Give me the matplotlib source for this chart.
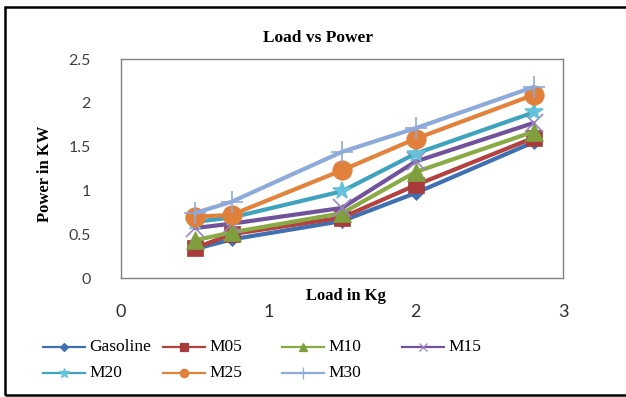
import matplotlib
matplotlib.use("Agg")
import matplotlib.pyplot as plt
from matplotlib.lines import Line2D
from matplotlib.patches import Rectangle

# ----------------------------------------------------
# Data
# ----------------------------------------------------
load = [0.5, 0.75, 1.5, 2.0, 2.8]

gasoline = [0.33, 0.44, 0.65, 0.97, 1.55]
m05 = [0.34, 0.50, 0.69, 1.06, 1.60]
m10 = [0.43, 0.52, 0.74, 1.21, 1.67]
m15 = [0.57, 0.62, 0.80, 1.33, 1.77]
m20 = [0.64, 0.69, 0.99, 1.42, 1.89]
m25 = [0.70, 0.72, 1.23, 1.59, 2.09]
m30 = [0.74, 0.87, 1.44, 1.71, 2.18]

names = ["Gasoline", "M05", "M10", "M15", "M20", "M25", "M30"]
series = [gasoline, m05, m10, m15, m20, m25, m30]

x_ticks = [0, 1, 2, 3]
y_ticks = [0, 0.5, 1, 1.5, 2, 2.5]

# ----------------------------------------------------
# Styles
# ----------------------------------------------------
line_colors = ["#3F70B2", "#B2413F", "#8AAA45", "#71539C",
               "#3FA3BE", "#E2823B", "#8EAADB"]
marker_colors = ["#3F70B2", "#A83C3A", "#7F9E3E", "#9A86C0",
                 "#66C1DA", "#E0803A", "#8EAADB"]
markers = ["D", "s", "^", "x", "*", "o", "+"]
msizes = [7, 12, 13, 13, 13, 14, 16]
leg_sizes = [4, 6, 6, 6, 7, 6, 8]

serif = "Liberation Serif"
sans = "Lato"

fig = plt.figure(figsize=(6.26, 3.97), dpi=100)
ax = fig.add_axes([121 / 626, 1 - 278 / 397, 442 / 626, 219 / 397])

for name, vals, lc, mc, mk, ms in zip(names, series, line_colors,
                                      marker_colors, markers, msizes):
    ax.plot(load, vals, color=lc, lw=3.0, marker=mk, markersize=ms,
            markerfacecolor=mc, markeredgecolor=mc,
            markeredgewidth=1.2 if mk in "x*+" else 0.5,
            solid_capstyle="round", solid_joinstyle="round")

ax.set_xlim(0, 3)
ax.set_ylim(0, 2.5)
ax.set_xticks(x_ticks)
ax.set_yticks(y_ticks)
ax.set_yticklabels([f"{v:g}" for v in y_ticks], fontfamily=sans,
                   fontsize=11.5, color="#404040")
ax.set_xticklabels([str(v) for v in x_ticks], fontfamily=sans,
                   fontsize=13, color="#303030")
ax.tick_params(axis="y", length=0, pad=22)
ax.tick_params(axis="x", length=0, pad=19)
for s in ax.spines.values():
    s.set_color("#808080")
    s.set_linewidth(1.0)

# ----------------------------------------------------
# Labels
# ----------------------------------------------------
fig.text(318 / 626, 1 - 38 / 397, "Load vs Power", ha="center",
         va="center", fontfamily=serif, fontweight="bold", fontsize=12.5)
fig.text(346 / 626, 1 - 296 / 397, "Load in Kg", ha="center",
         va="center", fontfamily=serif, fontweight="bold", fontsize=12)
fig.text(45 / 626, 1 - 174 / 397, "Power in KW", ha="center",
         va="center", rotation=90, fontfamily=serif, fontweight="bold",
         fontsize=12)

# ----------------------------------------------------
# Legend (row-wise, evenly spaced like the original)
# ----------------------------------------------------
col_x = [43, 163, 282, 402]
row_y = [347, 373]
for i, (name, lc, mc, mk, ls) in enumerate(zip(names, line_colors,
                                               marker_colors, markers,
                                               leg_sizes)):
    r, c = divmod(i, 4)
    x0 = col_x[c]
    y0 = 1 - row_y[r] / 397
    fig.add_artist(Line2D([x0 / 626, (x0 + 42) / 626], [y0, y0],
                          transform=fig.transFigure, color=lc, lw=1.6))
    fig.add_artist(Line2D([(x0 + 21) / 626], [y0],
                          transform=fig.transFigure, marker=mk,
                          markersize=ls, color=mc, markerfacecolor=mc,
                          markeredgecolor=mc, markeredgewidth=0.9,
                          linestyle="none"))
    fig.text((x0 + 46) / 626, y0, name, ha="left", va="center",
             fontfamily=serif, fontsize=12.5)

# outer chart frame (right side runs off the image)
fig.add_artist(Rectangle((5 / 626, 2 / 397), 700 / 626, 388 / 397,
                         transform=fig.transFigure, fill=False,
                         edgecolor="black", lw=1.8))

fig.savefig("out.png", dpi=100)
